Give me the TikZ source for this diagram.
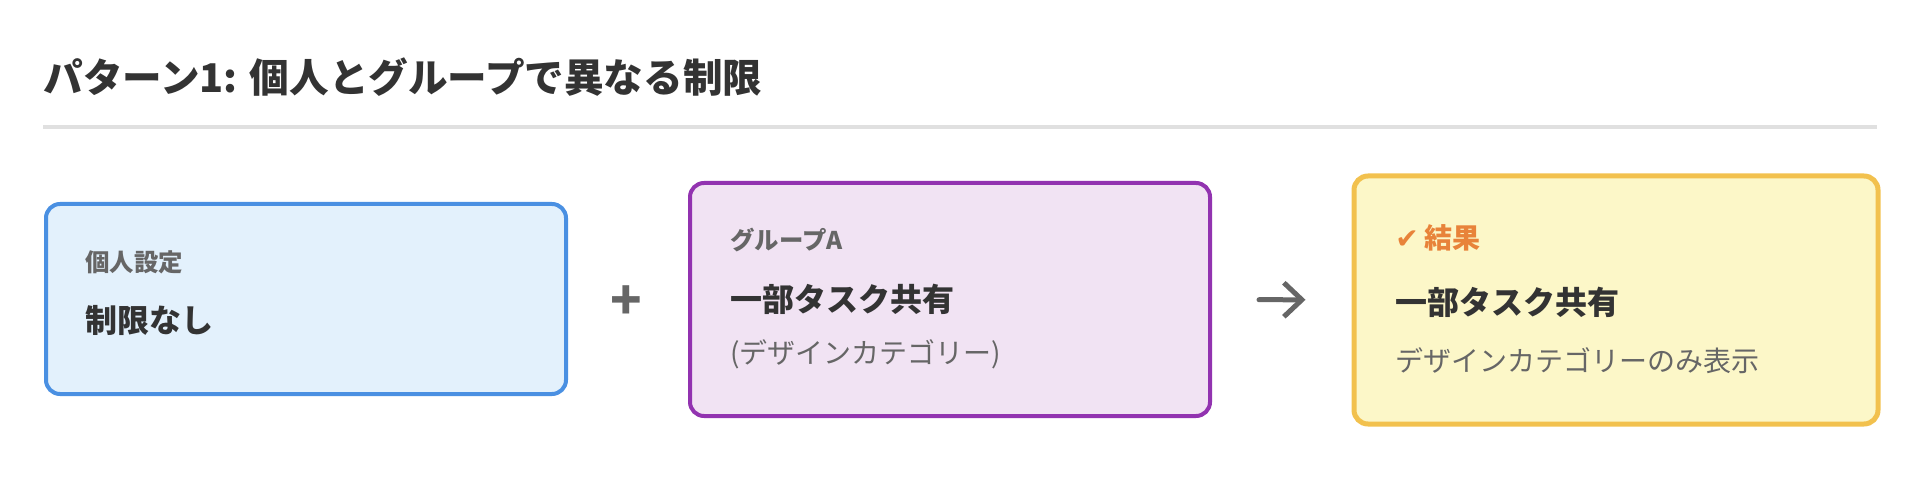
\documentclass[tikz,border=0pt]{standalone}
\usepackage{fontspec}
\setmainfont{Noto Sans CJK JP}
\newfontfamily\checkfont{DejaVu Sans}
\usetikzlibrary{arrows.meta}

\definecolor{textdark}{HTML}{333333}
\definecolor{textgray}{HTML}{666666}
\definecolor{rulegray}{HTML}{E0E0E0}
\definecolor{blueline}{HTML}{4A90E2}
\definecolor{bluefill}{HTML}{E3F1FC}
\definecolor{purpleline}{HTML}{9233B0}
\definecolor{purplefill}{HTML}{F1E3F3}
\definecolor{yellowline}{HTML}{F2C14E}
\definecolor{yellowfill}{HTML}{FCF7C8}
\definecolor{resultorange}{HTML}{E8833A}

\begin{document}
\begin{tikzpicture}[
    x=0.5pt, y=-0.5pt,
    card/.style={rectangle, draw, line width=2pt, rounded corners=7pt, inner sep=0pt, anchor=north west},
    caption/.style={anchor=west, inner sep=0pt, text=textgray, font=\fontsize{12.2}{14}\selectfont\bfseries},
    headline/.style={anchor=west, inner sep=0pt, text=textdark, font=\fontsize{16}{19}\selectfont\bfseries},
    subline/.style={anchor=west, inner sep=0pt, text=textgray, font=\fontsize{14}{17}\selectfont},
    flow/.style={draw=textgray, line width=2.5pt, line cap=round, line join=round,
        -{Straight Barb[length=9pt, width=17pt, line width=2.5pt]}}
]
    \useasboundingbox (0,0) rectangle (1914,496);

    % Title and rule
    \node[anchor=west, inner sep=0pt, text=textdark, font=\fontsize{19.8}{23}\selectfont\bfseries]
        (title) at (43,77) {パターン1: 個人とグループで異なる制限};
    \coordinate (ruleL) at (43,127);
    \coordinate (ruleR) at (1877,127);
    \draw[rulegray, line width=2pt] (ruleL) -- (ruleR);

    % Cards
    \node[card, draw=blueline, fill=bluefill, minimum width=260pt, minimum height=95pt]
        (personal) at (44,202) {};
    \node[card, draw=purpleline, fill=purplefill, minimum width=260pt, minimum height=116.5pt]
        (group) at (688,181) {};
    \node[card, draw=yellowline, fill=yellowfill, line width=2.5pt, minimum width=262pt, minimum height=124pt]
        (result) at (1351.5,173.5) {};

    % Card texts
    \node[caption] (personalCap) at (85,262) {個人設定};
    \node[headline] (personalMain) at (85,320) {制限なし};

    \node[caption] (groupCap) at (730,240) {グループA};
    \node[headline] (groupMain) at (730,299) {一部タスク共有};
    \node[subline] (groupSub) at (730,354) {(デザインカテゴリー)};

    \node[caption, text=resultorange, font=\fontsize{14}{16}\selectfont\bfseries]
        (resultCap) at (1395,238) {{\checkfont\fontsize{14}{16}\selectfont ✔}\hspace{3pt}結果};
    \node[headline] (resultMain) at (1395,302) {一部タスク共有};
    \node[subline] (resultSub) at (1395,361) {デザインカテゴリーのみ表示};

    % Operators
    \node[text=textgray, font=\fontsize{26}{30}\selectfont\bfseries, inner sep=0pt] (plus) at (626,303) {+};
    \draw[flow, shorten <=23.5pt, shorten >=23pt] (group) -- (result);
\end{tikzpicture}
\end{document}
